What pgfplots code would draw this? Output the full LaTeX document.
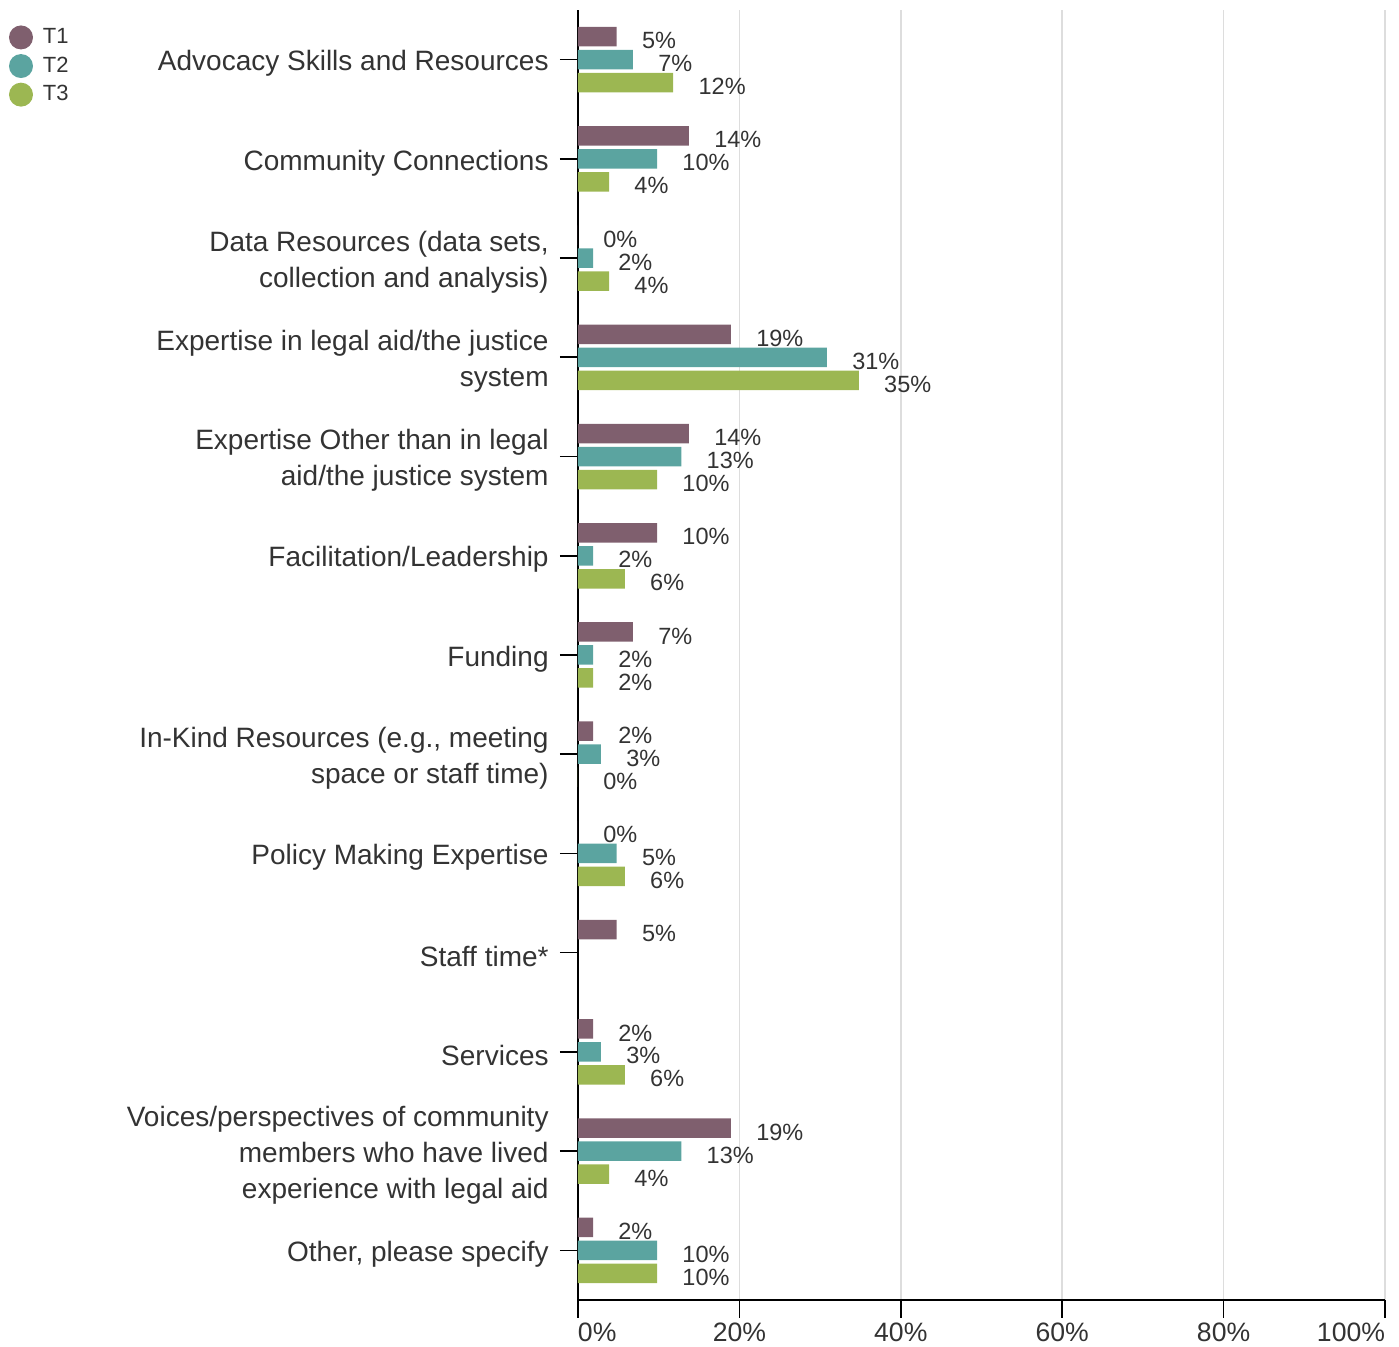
\documentclass[border=0pt]{standalone}
\usepackage{pgfplots}
\pgfplotsset{compat=1.18}
\usepackage{pgfplotstable}
\usepackage{fontspec}
\setmainfont{Liberation Sans}
\definecolor{cA}{HTML}{7F5F6E}
\definecolor{cB}{HTML}{5BA4A0}
\definecolor{cC}{HTML}{9CB752}
\definecolor{txt}{HTML}{333333}
\definecolor{grd}{HTML}{DDDDDD}

% y: 12 = Advocacy ... 0 = Other
\pgfplotstableread{
y v lab
12 4.8 5
11 13.75 14
10 0 0
9 18.95 19
8 13.75 14
7 9.8 10
6 6.8 7
5 1.86 2
4 0 0
3 4.8 5
2 1.86 2
1 18.95 19
0 1.86 2
}\tA
\pgfplotstableread{
y v lab
12 6.8 7
11 9.8 10
10 1.86 2
9 30.85 31
8 12.8 13
7 1.86 2
6 1.86 2
5 2.85 3
4 4.8 5
2 2.85 3
1 12.8 13
0 9.8 10
}\tB
\pgfplotstableread{
y v lab
12 11.8 12
11 3.85 4
10 3.85 4
9 34.8 35
8 9.8 10
7 5.8 6
6 1.86 2
5 0 0
4 5.8 6
2 5.8 6
1 3.85 4
0 9.8 10
}\tC

\begin{document}
\begin{tikzpicture}
\begin{axis}[
  set layers,
  scale only axis, width=403.5pt, height=645pt,
  at={(0pt,0pt)}, anchor=south west,
  xbar, bar width=9.75pt,
  xmin=0, xmax=100, ymin=-0.5, ymax=12.5,
  axis x line=bottom, axis y line=left,
  axis line style={-, black, line width=0.9pt, on layer=axis foreground},
  tick align=outside, major tick length=9pt,
  xtick pos=bottom, ytick pos=left,
  tick style={black, line width=0.8pt},
  xmajorgrids, major x grid style={grd, line width=0.75pt},
  xtick={0,20,40,60,80,100},
  xticklabels={\makebox[0pt][l]{0\%},20\%,40\%,60\%,80\%,\makebox[0pt][r]{100\%}},
  x tick label style={font=\fontsize{13.3}{15}\selectfont, text=txt, anchor=north, inner sep=0pt, yshift=-2.2pt},
  ytick={0,...,12},
  yticklabels={
    {Other, please specify},
    {Voices/perspectives of community\\members who have lived\\experience with legal aid},
    {Services},
    {Staff time*},
    {Policy Making Expertise},
    {In-Kind Resources (e.g., meeting\\space or staff time)},
    {Funding},
    {Facilitation/Leadership},
    {Expertise Other than in legal\\aid/the justice system},
    {Expertise in legal aid/the justice\\system},
    {Data Resources (data sets,\\collection and analysis)},
    {Community Connections},
    {Advocacy Skills and Resources}},
  y tick label style={align=right, font=\fontsize{14}{18}\selectfont, text=txt, anchor=east, inner sep=0pt, xshift=-5.5pt, yshift=-2pt},
  clip=false,
  point meta=explicit symbolic,
  nodes near coords={\pgfplotspointmeta\%},
  every node near coord/.append style={anchor=west, inner sep=0pt, xshift=12.5pt, yshift=-2pt, font=\fontsize{11.75}{14}\selectfont, text=txt},
  legend image code/.code={\fill[#1, draw=none] (0pt,0pt) circle (6pt);},
  legend style={at={(-0.70508,0.98800)}, anchor=north west, draw=none, fill=none, inner sep=0pt, outer sep=0pt,
    font=\fontsize{11}{13}\selectfont, text=txt, row sep=2.3pt, column sep=5pt, nodes={inner sep=0pt}},
  legend cell align=left,
]
\addplot[fill=cA, draw=none, bar shift=11.5pt] table[x=v, y=y, meta=lab] {\tA};
\addplot[fill=cB, draw=none, bar shift=0pt] table[x=v, y=y, meta=lab] {\tB};
\addplot[fill=cC, draw=none, bar shift=-11.5pt] table[x=v, y=y, meta=lab] {\tC};
\legend{T1,T2,T3}
\end{axis}
\pgfresetboundingbox
\useasboundingbox (-289pt,-23.5pt) rectangle (410.5pt,650pt);
\end{tikzpicture}
\end{document}
